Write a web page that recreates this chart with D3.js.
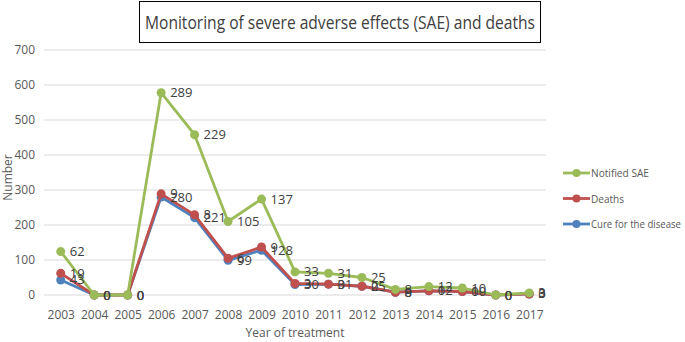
<!DOCTYPE html>
<html>
<head>
<meta charset="utf-8">
<script src="https://cdn.jsdelivr.net/npm/d3@7"></script>
<style>
    body { margin: 0; background: #fff; }
    text { font-family: "Open Sans", sans-serif; }
</style>
</head>
<body>
<div id="chart"></div>
<script>
    // years on the x axis
    const years = ["2003", "2004", "2005", "2006", "2007", "2008", "2009", "2010",
        "2011", "2012", "2013", "2014", "2015", "2016", "2017"]

    // stacked line chart: each series is stacked on top of the previous one
    const cure = [43, 0, 0, 280, 221, 99, 128, 30, 31, 25, 8, 12, 10, 0, 3]
    const deaths = [19, 0, 0, 9, 8, 6, 9, 3, 0, 0, 0, 0, 0, 0, 0]
    const notified = [62, 0, 0, 289, 229, 105, 137, 33, 31, 25, 8, 12, 10, 0, 3]

    const yTicks = [0, 100, 200, 300, 400, 500, 600, 700]

    const seriesNames = ["Cure for the disease", "Deaths", "Notified SAE"]
    const seriesColors = ["#4F81BD", "#C0504D", "#9BBB59"]

    const W = 685, H = 342
    const margin = {top: 50, right: 139, bottom: 47, left: 44},
        width = W - margin.left - margin.right,
        height = H - margin.top - margin.bottom

    const svg = d3.select("#chart").append("svg")
        .attr("width", W)
        .attr("height", H)

    const g = svg.append("g")
        .attr("transform", `translate(${margin.left},${margin.top})`)

    const x = d3.scalePoint()
        .domain(years)
        .range([0, width])
        .padding(0.5)

    const y = d3.scaleLinear()
        .domain([0, 700])
        .range([height, 0])

    // grid lines
    g.append("g")
        .selectAll("line")
        .data(yTicks)
        .join("line")
        .attr("x1", 0)
        .attr("x2", width)
        .attr("y1", d => y(d))
        .attr("y2", d => y(d))
        .attr("stroke", "#d9d9d9")
        .attr("stroke-width", 1)

    // Y axis
    g.append("g")
        .attr("transform", "translate(-6,0)")
        .call(d3.axisLeft(y).tickValues(yTicks).tickSize(0))
        .call(ax => ax.select(".domain").remove())
        .selectAll("text")
        .attr("fill", "#595959")
        .style("font-size", "12px")

    // X axis
    g.append("g")
        .attr("transform", `translate(0,${height + 12})`)
        .call(d3.axisBottom(x).tickSize(0))
        .call(ax => ax.select(".domain").remove())
        .selectAll("text")
        .attr("fill", "#595959")
        .style("font-size", "12px")

    // axis titles
    svg.append("text")
        .attr("x", margin.left + width / 2)
        .attr("y", 337)
        .attr("text-anchor", "middle")
        .attr("fill", "#595959")
        .style("font-size", "12px")
        .text("Year of treatment")

    svg.append("text")
        .attr("transform", `translate(12,${margin.top + height / 2 + 5}) rotate(-90)`)
        .attr("text-anchor", "middle")
        .attr("fill", "#595959")
        .style("font-size", "12px")
        .text("Number")

    // stack the data
    const table = years.map((yr, i) => ({
        year: yr,
        cure: cure[i],
        deaths: deaths[i],
        notified: notified[i]
    }))
    const keys = ["cure", "deaths", "notified"]
    const stacked = d3.stack().keys(keys)(table)

    const line = d3.line()
        .x(d => x(d.data.year))
        .y(d => y(d[1]))

    stacked.forEach((s, k) => {
        g.append("path")
            .datum(s)
            .attr("fill", "none")
            .attr("stroke", seriesColors[k])
            .attr("stroke-width", 2.8)
            .attr("stroke-linejoin", "round")
            .attr("d", line)

        g.append("g")
            .selectAll("circle")
            .data(s)
            .join("circle")
            .attr("cx", d => x(d.data.year))
            .attr("cy", d => y(d[1]))
            .attr("r", 4.5)
            .attr("fill", seriesColors[k])
    })

    // data labels (own value, placed right of the point)
    stacked.forEach((s, k) => {
        g.append("g")
            .selectAll("text")
            .data(s)
            .join("text")
            .attr("x", d => x(d.data.year) + 9)
            .attr("y", d => y(d[1]) + 4.5)
            .attr("fill", "#404040")
            .style("font-size", "13px")
            .text(d => d.data[keys[k]])
    })

    // legend
    const legendOrder = [2, 1, 0]
    const legendWidths = [90, 33, 58]
    const legend = svg.append("g")
        .attr("transform", "translate(563,173)")
    legendOrder.forEach((k, i) => {
        const row = legend.append("g").attr("transform", `translate(0,${i * 25.5})`)
        row.append("line")
            .attr("x1", 0).attr("x2", 27)
            .attr("stroke", seriesColors[k])
            .attr("stroke-width", 2.8)
        row.append("circle")
            .attr("cx", 13.5).attr("r", 4)
            .attr("fill", seriesColors[k])
        row.append("text")
            .attr("x", 28)
            .attr("y", 4)
            .attr("fill", "#595959")
            .style("font-size", "11px")
            .attr("textLength", legendWidths[k])
            .attr("lengthAdjust", "spacingAndGlyphs")
            .text(seriesNames[k])
    })

    // title box
    const titleG = svg.append("g")
    titleG.append("rect")
        .attr("x", 139.5)
        .attr("y", 1.5)
        .attr("width", 401)
        .attr("height", 41)
        .attr("fill", "#fff")
        .attr("stroke", "#000")
        .attr("stroke-width", 1)
    titleG.append("text")
        .attr("x", 340)
        .attr("y", 29)
        .attr("text-anchor", "middle")
        .attr("fill", "#404040")
        .style("font-size", "19px")
        .attr("textLength", 390)
        .attr("lengthAdjust", "spacingAndGlyphs")
        .text("Monitoring of severe adverse effects (SAE) and deaths")
</script>
</body>
</html>
